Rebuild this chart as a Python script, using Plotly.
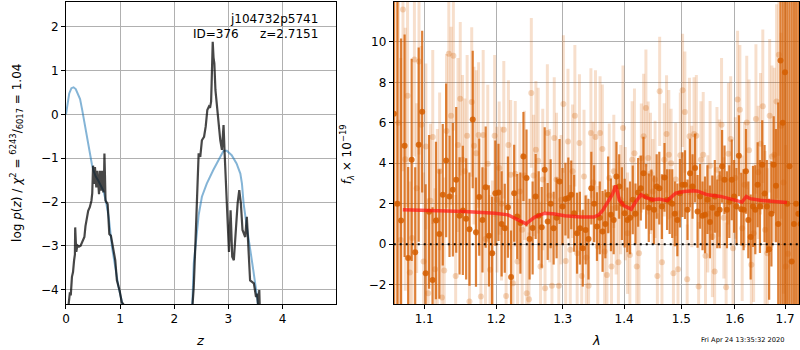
import numpy as np
import plotly.graph_objects as go

# ---------------- left panel: log p(z) ----------------
z_prior = [0.0, 0.03, 0.06, 0.10, 0.14, 0.18, 0.22, 0.26, 0.30, 0.33, 0.36, 0.39, 0.42, 0.45,
           0.48, 0.51, 0.55, 0.60, 0.65, 0.69, 0.74, 0.79, 0.85, 0.91, 0.97, 1.04, 1.10, 1.50,
           2.00, 2.30, 2.33, 2.36, 2.41, 2.45, 2.51, 2.60, 2.72, 2.82, 2.91, 2.97, 3.06, 3.15,
           3.22, 3.25, 3.28, 3.34, 3.40, 3.46, 3.52, 3.55, 3.60, 4.00, 5.00]
logp_prior = [0.0, 0.30, 0.48, 0.60, 0.62, 0.58, 0.45, 0.35, 0.10, -0.12, -0.32, -0.53, -0.75,
              -0.98, -1.15, -1.29, -1.42, -1.52, -1.63, -1.74, -2.00, -2.35, -3.03, -3.48, -3.94,
              -4.32, -4.80, -7.0, -7.0, -5.5, -4.5, -3.4, -2.8, -2.3, -1.88, -1.58, -1.27, -1.04,
              -0.83, -0.83, -0.93, -1.12, -1.35, -1.58, -2.03, -2.57, -3.02, -3.56, -4.09, -4.39,
              -4.90, -7.0, -8.0]

z_fit = [0.03, 0.045, 0.05, 0.07, 0.09, 0.11, 0.13, 0.15, 0.165, 0.17, 0.18, 0.19, 0.21, 0.24,
         0.27, 0.29, 0.32, 0.34, 0.36, 0.39, 0.41, 0.44, 0.47, 0.485, 0.49, 0.50, 0.51, 0.52,
         0.535, 0.545, 0.56, 0.58, 0.595, 0.61, 0.62, 0.63, 0.64, 0.65, 0.67, 0.68, 0.69, 0.705,
         0.71, 0.72, 0.73, 0.77, 0.78, 0.80, 0.83, 0.86, 0.88, 0.91, 0.94, 0.99, 1.03, 1.06,
         1.10, 1.15, 2.28, 2.33, 2.36, 2.39, 2.42, 2.45, 2.48, 2.51, 2.55, 2.58, 2.61, 2.64,
         2.66, 2.68, 2.69, 2.71, 2.725, 2.74, 2.76, 2.79, 2.82, 2.85, 2.88, 2.91, 2.93, 2.96,
         2.99, 3.01, 3.04, 3.07, 3.10, 3.13, 3.17, 3.20, 3.23, 3.26, 3.31, 3.34, 3.37, 3.40,
         3.43, 3.47, 3.51, 3.53, 3.55, 3.57, 3.58, 3.60]
logp_fit = [-6.0, -4.4, -4.32, -4.09, -4.10, -3.71, -3.60, -3.33, -3.20, -2.58, -3.00, -3.14,
            -2.99, -3.02, -3.00, -2.95, -2.85, -2.80, -2.55, -2.35, -2.20, -2.12, -1.97, -1.80,
            -1.67, -1.17, -1.40, -1.59, -1.20, -1.50, -1.67, -1.29, -1.60, -1.82, -1.50, -1.29,
            -1.50, -1.74, -1.29, -1.50, -1.78, -1.30, -0.89, -1.40, -1.97, -2.05, -2.40, -2.73,
            -2.77, -3.00, -3.18, -3.33, -3.79, -4.02, -4.29, -4.35, -4.40, -6.0, -6.0, -4.47,
            -3.94, -2.95, -1.88, -0.89, -0.97, -0.59, -0.51, -0.28, 0.10, 0.18, 0.15, 0.29, 0.71,
            1.66, 1.30, 1.17, 0.56, 0.14, -0.36, -0.59, -0.81, -0.24, -0.89, -1.73, -2.49, -3.14,
            -2.19, -3.25, -3.33, -2.64, -2.03, -1.73, -2.03, -2.64, -2.80, -2.34, -3.02, -3.79,
            -3.82, -3.86, -4.17, -4.09, -4.39, -4.01, -4.47, -6.0]

# ---------------- right panel: spectrum ----------------
# primary (dark) spectrum, one value per detector pixel
lam0_dark, dlam_dark = 1.0605, 0.0046
flux_dark = [6.45, 2.0, 1.17, 4.87, -0.69, 4.17, -0.4, 4.92, 6.55, -1.44, 1.6, -1.77, 1.17, 0.5,
             2.44, 4.14, 2.36, 2.69, 3.18, 1.4, 1.67, 1.25, 0.74, 6.16, 0.59, 2.33, 1.2, 2.82,
             0.41, -0.45, 2.52, 2.56, 1.0, 0.79, 1.83, -1.63, 2.52, 1.37, 1.04, 4.34, 3.27, 0.25,
             0.8, 2.36, 1.4, 0.83, 3.68, 1.12, 2.0, 0.79, 1.3, 3.1, 1.86, 2.23, 2.28, 2.44, 1.53,
             0.54, 0.79, -0.2, 0.7, 0.25, 2.77, 2.0, 0.87, 1.3, 0.63, 1.0, 2.44, 1.45, 1.2, 3.35,
             2.85, 2.0, 1.53, 1.2, 1.3, 2.19, 1.5, 2.56, 2.77, 3.51, 2.36, 1.8, 2.19, 1.7, 2.85,
             2.77, 1.86, 3.3, 2.2, 2.1, 2.0, 1.5, 1.2, 2.52, 2.94, 2.94, 1.7, 3.51, 2.85, 3.76,
             1.62, 2.36, 1.4, 1.45, 2.2, 1.1, 1.8, 2.36, 1.5, 1.7, 3.85, 3.18, 1.7, 2.1, 3.18,
             2.36, 1.86, 4.37, 1.73, 1.7, 3.6, 1.2, 0.35, 1.86, 1.7, 2.94, 1.86, 3.93, 2.5, 1.86,
             -0.25, 1.5, 3.93, 2.89, 1.0, 9.08, 6.0, 8.5, 2.0, 3.85, -0.86, 1.0, 2.0, 1.5, 1.0]
err_dark = ([30, 30, 9] +
            [5.5, 4.5, 5.0, 4.2, 4.8, 4.0, 4.4, 3.8] +
            [3.6, 3.9, 3.2, 3.5, 3.8, 3.0, 3.3, 3.6, 2.9, 3.2] +
            [3.0, 2.8, 3.4, 2.7, 2.9, 2.6, 3.0, 2.5, 2.8, 2.6] +
            [2.4, 2.6, 2.2, 2.5, 2.3, 2.4, 2.1, 2.5, 2.2, 2.4, 2.0, 2.3, 2.1, 2.2, 2.0] +
            [2.1, 1.9, 2.2, 1.8, 2.0, 2.1, 1.9, 1.8, 2.0, 1.7, 1.9, 2.0, 1.8, 1.9, 1.7, 2.0,
             1.8, 1.9, 1.7, 1.8, 2.0, 1.7, 1.9, 1.8, 1.7] +
            [1.7, 1.6, 1.8, 1.7, 1.6, 1.8, 1.7, 1.5, 1.7, 1.6, 1.8, 1.6, 1.7, 1.5, 1.7, 1.6,
             1.8, 1.6, 1.7, 1.5, 1.6, 1.7, 1.6, 1.8, 1.7, 1.6, 1.7, 1.5, 1.7, 1.6] +
            [1.7, 1.8, 1.6, 1.7, 1.9, 1.7, 1.8, 1.6, 1.8, 1.7, 1.9, 1.8, 1.7, 1.9, 1.8, 2.0,
             1.8, 1.9, 2.0, 1.8, 2.0, 2.1, 1.9, 2.1, 2.0] +
            [2.2, 2.1, 2.3, 2.2, 2.4, 2.3, 2.5, 2.6, 2.4, 2.8] +
            [6] + [30] * 10)
lam_dark = lam0_dark + dlam_dark * np.arange(len(flux_dark))

# secondary (light) spectra
lam_light_min, lam_light_max = 1.0633, 1.7061
flux_light = [2.0, 6.0, 0.21, 11.6, 4.2, 7.34, -1.4, 0.3, 9.13, 2.77, 9.03, 5.9, -0.86, 4.83,
              -2.43, 2.15, 5.3, -1.24, 1.2, 3.6, -2.64, -1.3, 5.6, 9.42, 6.35, 9.32, -1.57, 4.9,
              7.19, 4.17, 3.6, 5.36, -2.84, 7.03, 4.87, 4.5, 5.4, -2.59, 5.4, 0.25, 3.98, -1.27,
              -0.45, 5.36,
              2.2, 3.76, 2.0, 5.66, -2.56, 4.9, 3.43, -1.93, 3.48, -0.86, 2.6, 0.71, 3.4, -2.43,
              -2.72, 7.48, 3.4, 4.67, 4.13, -1.1, 3.2, -2.18, 5.5, 2.4, -2.06, 5.25, 3.2, -2.06,
              2.2, 6.93, -0.83, 5.08, -0.28, 3.6, 6.35, -0.45, 5.0, -1.57, 3.35, -0.66, -2.06,
              5.5, 3.05, 5.3,
              -0.12, 5.5, 4.7, -0.36, -1.52, 3.27, -1.1, 3.6, 1.8, -0.89, 2.2, 5.74, 2.0, 0.54,
              -0.54, 4.17, 4.5, -1.1, -0.45, 4.26, 5.33, 6.73, 4.26, 3.5, 2.6, 3.2, -1.57, 7.56,
              -0.89, 4.17, 5.45, 4.42, 4.0, -1.44, 3.2, -1.24, 4.4, 7.61, 6.53, -1.73, 5.33,
              2.85, 5.45,
              5.36, -2.1, 4.17, 4.42, -0.58, 1.5, 3.88, 0.38, -1.35, 3.68, 3.27, 5.9, 1.3, -2.13,
              4.47, 5.2, -0.2, 3.27, 7.15, 6.65, 0.79, 2.94, 6.02, 4.64, -1.02, 0.54, 6.19, 3.55,
              4.97, 6.82, 0.71, -0.45, 6.35, 4.34, 4.42, 7.06, 9.37, 5.86, 3.05, -1.1, -0.48]
err_light = ([12, 10, 9, 8, 6.5, 5.5] +
             [4.5, 4.0, 4.8, 4.2, 4.6, 3.9, 4.4, 4.1, 4.7, 3.8, 4.3, 4.0, 4.5, 3.9, 4.2, 4.6,
              3.8, 4.1, 4.4, 3.7, 4.0, 4.3, 3.8, 4.2, 3.6, 4.0, 4.4, 3.7, 3.9, 4.1, 3.6, 3.8,
              4.2, 3.5, 3.9, 3.7, 3.6, 4.0] +
             [3.6, 3.3, 3.8, 3.4, 3.5, 3.2, 3.7, 3.3, 3.6, 3.1, 3.4, 3.8, 3.2, 3.5, 3.3, 3.7,
              3.0, 3.4, 3.6, 3.2, 3.5, 3.1, 3.4, 3.3, 3.6, 3.0, 3.3, 3.5, 3.2, 3.4, 3.1, 3.6,
              3.2, 3.3, 3.5, 3.0, 3.4, 3.2, 3.3, 3.1, 3.5, 3.2, 3.0, 3.3] +
             [3.0, 2.8, 3.2, 2.9, 3.1, 2.7, 3.0, 2.8, 3.3, 2.9, 2.7, 3.1, 2.8, 3.0, 2.6, 2.9,
              3.2, 2.8, 3.0, 2.7, 3.1, 2.9, 2.8, 3.0, 2.6, 2.9, 3.1, 2.7, 3.0, 2.8, 2.9, 3.2,
              2.7, 3.0, 2.8, 2.9, 3.1, 2.8, 3.0, 2.7, 2.9, 3.0, 2.8] +
             [3.0, 3.2, 2.9, 3.1, 3.3, 2.9, 3.2, 3.0, 3.4, 3.1, 2.9, 3.3, 3.0, 3.2, 3.5, 3.1,
              3.3, 3.0, 3.4, 3.2, 3.6, 3.1, 3.3, 3.5, 3.2, 3.4, 3.7, 3.3, 3.5, 3.8] +
             [3.9, 4.2, 3.8, 4.5, 4.3, 4.8, 5.0, 4.6, 5.5, 6.0, 6.5])
lam_light = np.geomspace(lam_light_min, lam_light_max, len(flux_light))

# best-fit model
lam_model = [1.072, 1.110, 1.155, 1.198, 1.217, 1.232, 1.244, 1.248, 1.257, 1.272, 1.285, 1.303,
             1.329, 1.350, 1.358, 1.365, 1.372, 1.380, 1.386, 1.392, 1.400, 1.412, 1.420, 1.429,
             1.438, 1.449, 1.460, 1.467, 1.475, 1.490, 1.505, 1.523, 1.530, 1.548, 1.573, 1.598,
             1.614, 1.6224, 1.630, 1.650, 1.677, 1.704]
flux_model = [1.70, 1.67, 1.62, 1.53, 1.45, 1.20, 1.00, 1.12, 1.34, 1.53, 1.50, 1.40, 1.34, 1.34,
              1.45, 1.70, 2.03, 2.44, 2.90, 2.19, 1.90, 1.73, 2.11, 2.44, 2.30, 2.19, 2.23, 2.20,
              2.15, 2.52, 2.60, 2.64, 2.62, 2.44, 2.36, 2.19, 2.08, 2.36, 2.25, 2.17, 2.11, 2.06]

lam_ticks = [1.1, 1.2, 1.3, 1.4, 1.5, 1.6, 1.7]
flux_ticks = [-2, 0, 2, 4, 6, 8, 10]
z_ticks = [0, 1, 2, 3, 4]
logp_ticks = [-4, -3, -2, -1, 0, 1, 2]

W, H = 800, 350
FONT = "DejaVu Sans"
ORANGE = "213,94,0"

fig = go.Figure()
fig.add_trace(go.Scatter(x=z_prior, y=logp_prior, mode="lines",
                         line=dict(color="rgba(31,119,180,0.55)", width=2),
                         xaxis="x", yaxis="y", hoverinfo="skip"))
fig.add_trace(go.Scatter(x=z_fit, y=logp_fit, mode="lines",
                         line=dict(color="rgba(0,0,0,0.72)", width=2.2),
                         xaxis="x", yaxis="y", hoverinfo="skip"))

fig.add_trace(go.Scatter(x=lam_light, y=flux_light, mode="markers",
                         marker=dict(size=6, color=f"rgba({ORANGE},0.25)", line=dict(width=0)),
                         error_y=dict(type="data", array=err_light, visible=True,
                                      color=f"rgba({ORANGE},0.2)", thickness=3, width=0),
                         xaxis="x2", yaxis="y2", hoverinfo="skip"))
fig.add_trace(go.Scatter(x=lam_dark, y=flux_dark, mode="markers",
                         marker=dict(size=6, color=f"rgba({ORANGE},0.85)", line=dict(width=0)),
                         error_y=dict(type="data", array=err_dark, visible=True,
                                      color=f"rgba({ORANGE},0.78)", thickness=2.2, width=0),
                         xaxis="x2", yaxis="y2", hoverinfo="skip"))
fig.add_trace(go.Scatter(x=lam_model, y=flux_model, mode="lines",
                         line=dict(color="rgba(255,20,20,0.7)", width=3.5),
                         xaxis="x2", yaxis="y2", hoverinfo="skip"))

fig.add_shape(type="line", xref="x2 domain", x0=0, x1=1, yref="y2", y0=0, y1=0,
              line=dict(color="black", width=2, dash="2px,4px"), layer="above")

ydom = [1 - 304 / H, 1 - 1.5 / H]
axis_common = dict(showgrid=True, gridcolor="#b0b0b0", gridwidth=1, zeroline=False,
                   showline=True, linecolor="black", linewidth=1, mirror=True,
                   ticks="outside", ticklen=4, tickcolor="black", tickwidth=1,
                   tickfont=dict(family=FONT, size=12, color="black"))

fig.update_layout(
    width=W, height=H, margin=dict(l=0, r=0, t=0, b=0),
    paper_bgcolor="white", plot_bgcolor="white", showlegend=False,
    font=dict(family=FONT, size=12, color="black"),
    xaxis=dict(domain=[62.3 / W, 333.3 / W], range=[0, 4.98], tickvals=z_ticks,
               anchor="y", **axis_common),
    yaxis=dict(domain=ydom, range=[-4.33, 2.58], tickvals=logp_ticks, anchor="x",
               **axis_common),
    xaxis2=dict(domain=[391.7 / W, 799.3 / W], type="log",
                range=[np.log10(1.0603), np.log10(1.7295)],
                tickvals=lam_ticks, ticktext=[f"{v:.1f}" for v in lam_ticks],
                anchor="y2", **axis_common),
    yaxis2=dict(domain=ydom, range=[-2.96, 12.0], tickvals=flux_ticks, anchor="x2",
                **axis_common),
)

ann = []
ann.append(dict(text="<i>z</i>", x=197.5 / W, y=1 - 340 / H, xref="paper", yref="paper",
                showarrow=False, xanchor="center", yanchor="middle", font=dict(size=13)))
ann.append(dict(text="<i>λ</i>", x=595.5 / W, y=1 - 340 / H, xref="paper", yref="paper",
                showarrow=False, xanchor="center", yanchor="middle", font=dict(size=13)))
ann.append(dict(text="log <i>p</i>(<i>z</i>) / <i>χ</i><sup>2</sup> = "
                     "<sup>6243</sup>/<sub>6017</sub> = 1.04",
                x=13 / W, y=1 - 153 / H, xref="paper", yref="paper", textangle=-90,
                showarrow=False, xanchor="center", yanchor="middle", font=dict(size=12)))
ann.append(dict(text="<i>f</i><sub><i>λ</i></sub> × 10<sup>−19</sup>",
                x=345 / W, y=1 - 154 / H, xref="paper", yref="paper", textangle=-90,
                showarrow=False, xanchor="center", yanchor="middle", font=dict(size=12)))
ann.append(dict(text="j104732p5741", x=318 / W, y=1 - 19 / H, xref="paper", yref="paper",
                showarrow=False, xanchor="right", yanchor="middle", font=dict(size=12)))
ann.append(dict(text="ID=376", x=238 / W, y=1 - 34 / H, xref="paper", yref="paper",
                showarrow=False, xanchor="right", yanchor="middle", font=dict(size=12)))
ann.append(dict(text="z=2.7151", x=318 / W, y=1 - 34 / H, xref="paper", yref="paper",
                showarrow=False, xanchor="right", yanchor="middle", font=dict(size=12)))
ann.append(dict(text="Fri Apr 24 13:35:32 2020", x=787 / W, y=1 - 339.5 / H,
                xref="paper", yref="paper", showarrow=False, xanchor="right",
                yanchor="middle", font=dict(size=6.7)))
fig.update_layout(annotations=ann)

fig.write_html("out.html", config={"displayModeBar": False},
               post_script="document.body.style.margin='0';"
                           "document.body.style.padding='0';"
                           "document.body.style.overflow='hidden';")
